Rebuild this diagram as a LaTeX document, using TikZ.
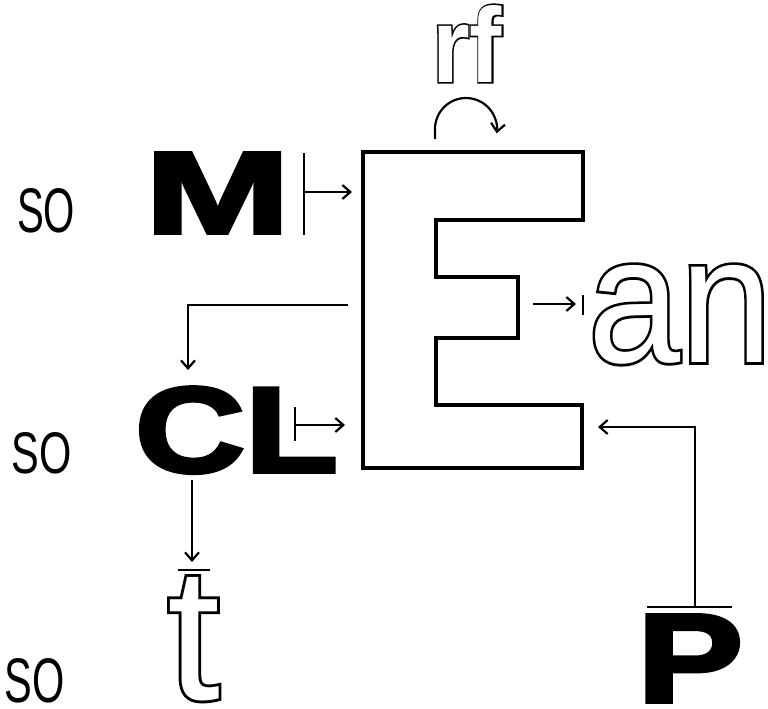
\documentclass[tikz,border=0pt]{standalone}
\usepackage{fontspec}
\usepackage{graphicx}
\usetikzlibrary{arrows.meta}
\newfontfamily\sansreg{Liberation Sans}
\newfontfamily\sansregfat[FakeBold=3]{Liberation Sans}
\newfontfamily\sansheavy[FakeBold=3]{Liberation Sans Bold}
\newfontfamily\rfreg{Liberation Sans Bold}
\newfontfamily\rffat[FakeBold=3]{Liberation Sans Bold}
\newcommand\heavytext[3]{\resizebox{#1}{#2}{\sansheavy #3}}
\newcommand\hollowtext[5]{\resizebox{#1}{#2}{\rlap{\color{black}#5#3}{\color{white}#4#3}}}
\begin{document}
\begin{tikzpicture}[x=1pt,y=-1pt,
  conn/.style={line width=2.2pt},
  arr/.style={conn,-{Straight Barb[length=8pt,width=14pt,line width=2.2pt]}},
  tickbar/.style={line width=2.3pt},
  lbl/.style={inner sep=0pt,outer sep=0pt,anchor=north west},
  soft/.style={lbl,font=\sansreg}]
\useasboundingbox (0,0) rectangle (768,709);
\fill[white] (0,0) rectangle (768,709);

% the big outlined E
\draw[line width=3.2pt,line join=miter]
  (363,152) -- (583,152) -- (583,220) -- (436,220) -- (436,277) -- (518,277)
  -- (518,338) -- (436,338) -- (436,405) -- (582,405) -- (582,468) -- (363,468) -- cycle;

% labels
\node[soft] (SO1) at (17,188) {\resizebox{58pt}{44pt}{SO}};
\node[soft] (SO2) at (12,432) {\resizebox{60pt}{41pt}{SO}};
\node[soft] (SO3) at (5,658) {\resizebox{60pt}{44pt}{SO}};

\node[lbl] (M) at (145,153) {\heavytext{145pt}{80pt}{M}};
\node[lbl] (CL) at (135,387) {\heavytext{203pt}{85pt}{CL}};
\node[lbl] (P) at (637,615) {\heavytext{106pt}{87pt}{P}};
\node[lbl] (t) at (167,577) {\hollowtext{53pt}{122pt}{t}{\sansreg}{\sansregfat}};
\node[lbl] (an) at (588,265) {\hollowtext{184pt}{97pt}{an}{\sansreg}{\sansregfat}};
\node[lbl] (rf) at (432,5) {\hollowtext{70pt}{77pt}{rf}{\rfreg}{\rffat}};

% connector end points
\coordinate (Mout) at (304,192);  \coordinate (Ein1) at (352,192);
\coordinate (Eout1) at (348,305); \coordinate (CLin) at (188,370);
\coordinate (CLout) at (295,425); \coordinate (Ein2) at (345,425);
\coordinate (CLdown) at (192,480); \coordinate (tin) at (192,562);
\coordinate (Eout2) at (533,304); \coordinate (anin) at (576,304);
\coordinate (Pout) at (695,606);  \coordinate (Ein3) at (598,427);
\coordinate (rfs) at (435,139);

% connectors
\draw[tickbar] (304,153) -- (304,235);
\draw[arr] (Mout) -- (Ein1);
\draw[arr] (Eout1) -| (CLin);
\draw[tickbar] (295,407) -- (295,441);
\draw[arr] (CLout) -- (Ein2);
\draw[arr] (CLdown) -- (tin);
\draw[tickbar] (178,570) -- (210,570);
\draw[arr] (Eout2) -- (anin);
\draw[tickbar] (583,295) -- (583,315);
\draw[arr] (Pout) |- (Ein3);
\draw[tickbar] (647,607) -- (732,607);
\draw[arr] (rfs) -- ++(0,-10) arc[start angle=180,end angle=368,radius=31];
\end{tikzpicture}
\end{document}
